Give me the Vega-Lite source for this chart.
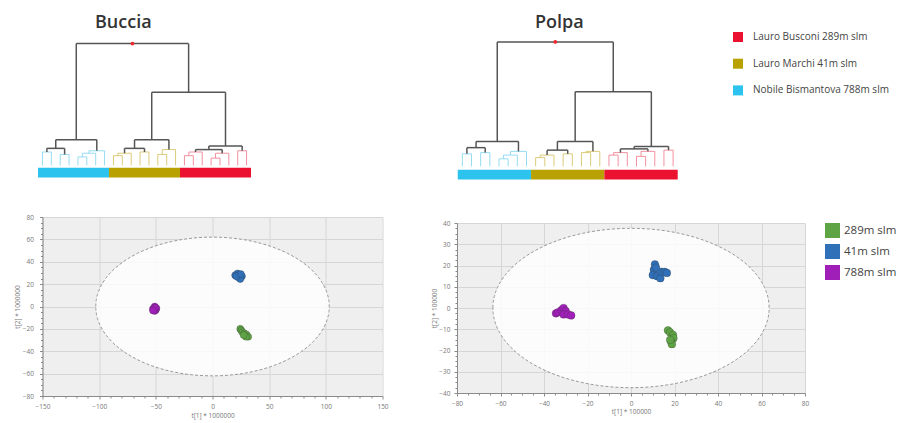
{
  "$schema": "https://vega.github.io/schema/vega-lite/v6.json",
  "background": "white",
  "padding": {"left": 14, "top": 14, "right": 4, "bottom": 2},
  "config": {
    "font": "Open Sans",
    "view": {"stroke": null},
    "axis": {
      "labelFont": "Open Sans", "labelFontSize": 6.5, "labelColor": "#777",
      "titleFont": "Open Sans", "titleFontSize": 6.5, "titleColor": "#777", "titleFontWeight": "normal",
      "domainColor": "#8a8a8a", "tickColor": "#8a8a8a", "gridColor": "#d6d6d6",
      "labelOverlap": false, "labelFlush": false, "tickSize": 3
    },
    "legend": {"labelFont": "Open Sans", "labelColor": "#444", "title": null}
  },
  "datasets": {
    "bDen": [
      {"x0":0.5,"x1":0.5,"h0":0,"h1":11,"c":"cyan"},{"x0":1.5,"x1":1.5,"h0":0,"h1":11,"c":"cyan"},{"x0":0.5,"x1":1.5,"h0":11,"h1":11,"c":"cyan"},
      {"x0":2.5,"x1":2.5,"h0":0,"h1":9,"c":"cyan"},{"x0":3.5,"x1":3.5,"h0":0,"h1":9,"c":"cyan"},{"x0":2.5,"x1":3.5,"h0":9,"h1":9,"c":"cyan"},
      {"x0":1,"x1":1,"h0":11,"h1":14,"c":"dark"},{"x0":3,"x1":3,"h0":9,"h1":14,"c":"dark"},{"x0":1,"x1":3,"h0":14,"h1":14,"c":"dark"},
      {"x0":4.5,"x1":4.5,"h0":0,"h1":7,"c":"cyan"},{"x0":5.5,"x1":5.5,"h0":0,"h1":7,"c":"cyan"},{"x0":4.5,"x1":5.5,"h0":7,"h1":7,"c":"cyan"},
      {"x0":5,"x1":5,"h0":7,"h1":10,"c":"cyan"},{"x0":6.5,"x1":6.5,"h0":0,"h1":10,"c":"cyan"},{"x0":5,"x1":6.5,"h0":10,"h1":10,"c":"cyan"},
      {"x0":5.75,"x1":5.75,"h0":10,"h1":12,"c":"cyan"},{"x0":7.5,"x1":7.5,"h0":0,"h1":12,"c":"cyan"},{"x0":5.75,"x1":7.5,"h0":12,"h1":12,"c":"cyan"},
      {"x0":2,"x1":2,"h0":14,"h1":21,"c":"dark"},{"x0":6.625,"x1":6.625,"h0":12,"h1":21,"c":"dark"},{"x0":2,"x1":6.625,"h0":21,"h1":21,"c":"dark"},
      {"x0":8.5,"x1":8.5,"h0":0,"h1":8,"c":"gold"},{"x0":9.5,"x1":9.5,"h0":0,"h1":8,"c":"gold"},{"x0":8.5,"x1":9.5,"h0":8,"h1":8,"c":"gold"},
      {"x0":9,"x1":9,"h0":8,"h1":10,"c":"gold"},{"x0":10.5,"x1":10.5,"h0":0,"h1":10,"c":"gold"},{"x0":9,"x1":10.5,"h0":10,"h1":10,"c":"gold"},
      {"x0":11.5,"x1":11.5,"h0":0,"h1":11,"c":"gold"},{"x0":12.5,"x1":12.5,"h0":0,"h1":11,"c":"gold"},{"x0":11.5,"x1":12.5,"h0":11,"h1":11,"c":"gold"},
      {"x0":9.75,"x1":9.75,"h0":10,"h1":14,"c":"dark"},{"x0":12,"x1":12,"h0":11,"h1":14,"c":"dark"},{"x0":9.75,"x1":12,"h0":14,"h1":14,"c":"dark"},
      {"x0":13.5,"x1":13.5,"h0":0,"h1":9,"c":"gold"},{"x0":14.5,"x1":14.5,"h0":0,"h1":9,"c":"gold"},{"x0":13.5,"x1":14.5,"h0":9,"h1":9,"c":"gold"},
      {"x0":14,"x1":14,"h0":9,"h1":13,"c":"gold"},{"x0":15.5,"x1":15.5,"h0":0,"h1":13,"c":"gold"},{"x0":14,"x1":15.5,"h0":13,"h1":13,"c":"gold"},
      {"x0":10.875,"x1":10.875,"h0":14,"h1":21,"c":"dark"},{"x0":14.75,"x1":14.75,"h0":13,"h1":21,"c":"dark"},{"x0":10.875,"x1":14.75,"h0":21,"h1":21,"c":"dark"},
      {"x0":16.5,"x1":16.5,"h0":0,"h1":8,"c":"pink"},{"x0":17.5,"x1":17.5,"h0":0,"h1":8,"c":"pink"},{"x0":16.5,"x1":17.5,"h0":8,"h1":8,"c":"pink"},
      {"x0":17,"x1":17,"h0":8,"h1":11,"c":"pink"},{"x0":18.5,"x1":18.5,"h0":0,"h1":11,"c":"pink"},{"x0":17,"x1":18.5,"h0":11,"h1":11,"c":"pink"},
      {"x0":19.5,"x1":19.5,"h0":0,"h1":6,"c":"pink"},{"x0":20.5,"x1":20.5,"h0":0,"h1":6,"c":"pink"},{"x0":19.5,"x1":20.5,"h0":6,"h1":6,"c":"pink"},
      {"x0":20,"x1":20,"h0":6,"h1":10,"c":"pink"},{"x0":21.5,"x1":21.5,"h0":0,"h1":10,"c":"pink"},{"x0":20,"x1":21.5,"h0":10,"h1":10,"c":"pink"},
      {"x0":17.75,"x1":17.75,"h0":11,"h1":13,"c":"dark"},{"x0":20.75,"x1":20.75,"h0":10,"h1":13,"c":"dark"},{"x0":17.75,"x1":20.75,"h0":13,"h1":13,"c":"dark"},
      {"x0":22.5,"x1":22.5,"h0":0,"h1":12,"c":"pink"},{"x0":23.5,"x1":23.5,"h0":0,"h1":12,"c":"pink"},{"x0":22.5,"x1":23.5,"h0":12,"h1":12,"c":"pink"},
      {"x0":19.25,"x1":19.25,"h0":13,"h1":16,"c":"dark"},{"x0":23,"x1":23,"h0":12,"h1":16,"c":"dark"},{"x0":19.25,"x1":23,"h0":16,"h1":16,"c":"dark"},
      {"x0":12.8125,"x1":12.8125,"h0":21,"h1":60,"c":"dark"},{"x0":21.125,"x1":21.125,"h0":16,"h1":60,"c":"dark"},{"x0":12.8125,"x1":21.125,"h0":60,"h1":60,"c":"dark"},
      {"x0":4.3125,"x1":4.3125,"h0":21,"h1":100,"c":"dark"},{"x0":16.96875,"x1":16.96875,"h0":60,"h1":100,"c":"dark"},{"x0":4.3125,"x1":16.96875,"h0":100,"h1":100,"c":"dark"}
    ],
    "pDen": [
      {"x0":0.5,"x1":0.5,"h0":0,"h1":10,"c":"cyan"},{"x0":1.5,"x1":1.5,"h0":0,"h1":10,"c":"cyan"},{"x0":0.5,"x1":1.5,"h0":10,"h1":10,"c":"cyan"},
      {"x0":2.5,"x1":2.5,"h0":0,"h1":11,"c":"cyan"},{"x0":3.5,"x1":3.5,"h0":0,"h1":11,"c":"cyan"},{"x0":2.5,"x1":3.5,"h0":11,"h1":11,"c":"cyan"},
      {"x0":1,"x1":1,"h0":10,"h1":15,"c":"dark"},{"x0":3,"x1":3,"h0":11,"h1":15,"c":"dark"},{"x0":1,"x1":3,"h0":15,"h1":15,"c":"dark"},
      {"x0":4.5,"x1":4.5,"h0":0,"h1":6,"c":"cyan"},{"x0":5.5,"x1":5.5,"h0":0,"h1":6,"c":"cyan"},{"x0":4.5,"x1":5.5,"h0":6,"h1":6,"c":"cyan"},
      {"x0":5,"x1":5,"h0":6,"h1":9,"c":"cyan"},{"x0":6.5,"x1":6.5,"h0":0,"h1":9,"c":"cyan"},{"x0":5,"x1":6.5,"h0":9,"h1":9,"c":"cyan"},
      {"x0":5.75,"x1":5.75,"h0":9,"h1":12,"c":"cyan"},{"x0":7.5,"x1":7.5,"h0":0,"h1":12,"c":"cyan"},{"x0":5.75,"x1":7.5,"h0":12,"h1":12,"c":"cyan"},
      {"x0":2,"x1":2,"h0":15,"h1":20,"c":"dark"},{"x0":6.625,"x1":6.625,"h0":12,"h1":20,"c":"dark"},{"x0":2,"x1":6.625,"h0":20,"h1":20,"c":"dark"},
      {"x0":8.5,"x1":8.5,"h0":0,"h1":7,"c":"gold"},{"x0":9.5,"x1":9.5,"h0":0,"h1":7,"c":"gold"},{"x0":8.5,"x1":9.5,"h0":7,"h1":7,"c":"gold"},
      {"x0":9,"x1":9,"h0":7,"h1":9,"c":"gold"},{"x0":10.5,"x1":10.5,"h0":0,"h1":9,"c":"gold"},{"x0":9,"x1":10.5,"h0":9,"h1":9,"c":"gold"},
      {"x0":11.5,"x1":11.5,"h0":0,"h1":10,"c":"gold"},{"x0":12.5,"x1":12.5,"h0":0,"h1":10,"c":"gold"},{"x0":11.5,"x1":12.5,"h0":10,"h1":10,"c":"gold"},
      {"x0":9.75,"x1":9.75,"h0":9,"h1":13,"c":"dark"},{"x0":12,"x1":12,"h0":10,"h1":13,"c":"dark"},{"x0":9.75,"x1":12,"h0":13,"h1":13,"c":"dark"},
      {"x0":13.5,"x1":13.5,"h0":0,"h1":11,"c":"gold"},{"x0":14.5,"x1":14.5,"h0":0,"h1":11,"c":"gold"},{"x0":13.5,"x1":14.5,"h0":11,"h1":11,"c":"gold"},
      {"x0":14,"x1":14,"h0":11,"h1":12,"c":"gold"},{"x0":15.5,"x1":15.5,"h0":0,"h1":12,"c":"gold"},{"x0":14,"x1":15.5,"h0":12,"h1":12,"c":"gold"},
      {"x0":10.875,"x1":10.875,"h0":13,"h1":20,"c":"dark"},{"x0":14.75,"x1":14.75,"h0":12,"h1":20,"c":"dark"},{"x0":10.875,"x1":14.75,"h0":20,"h1":20,"c":"dark"},
      {"x0":16.5,"x1":16.5,"h0":0,"h1":9,"c":"pink"},{"x0":17.5,"x1":17.5,"h0":0,"h1":9,"c":"pink"},{"x0":16.5,"x1":17.5,"h0":9,"h1":9,"c":"pink"},
      {"x0":17,"x1":17,"h0":9,"h1":11,"c":"pink"},{"x0":18.5,"x1":18.5,"h0":0,"h1":11,"c":"pink"},{"x0":17,"x1":18.5,"h0":11,"h1":11,"c":"pink"},
      {"x0":19.5,"x1":19.5,"h0":0,"h1":8,"c":"pink"},{"x0":20.5,"x1":20.5,"h0":0,"h1":8,"c":"pink"},{"x0":19.5,"x1":20.5,"h0":8,"h1":8,"c":"pink"},
      {"x0":20,"x1":20,"h0":8,"h1":12,"c":"pink"},{"x0":21.5,"x1":21.5,"h0":0,"h1":12,"c":"pink"},{"x0":20,"x1":21.5,"h0":12,"h1":12,"c":"pink"},
      {"x0":17.75,"x1":17.75,"h0":11,"h1":14,"c":"dark"},{"x0":20.75,"x1":20.75,"h0":12,"h1":14,"c":"dark"},{"x0":17.75,"x1":20.75,"h0":14,"h1":14,"c":"dark"},
      {"x0":22.5,"x1":22.5,"h0":0,"h1":13,"c":"pink"},{"x0":23.5,"x1":23.5,"h0":0,"h1":13,"c":"pink"},{"x0":22.5,"x1":23.5,"h0":13,"h1":13,"c":"pink"},
      {"x0":19.25,"x1":19.25,"h0":14,"h1":16,"c":"dark"},{"x0":23,"x1":23,"h0":13,"h1":16,"c":"dark"},{"x0":19.25,"x1":23,"h0":16,"h1":16,"c":"dark"},
      {"x0":12.8125,"x1":12.8125,"h0":20,"h1":60,"c":"dark"},{"x0":21.125,"x1":21.125,"h0":16,"h1":60,"c":"dark"},{"x0":12.8125,"x1":21.125,"h0":60,"h1":60,"c":"dark"},
      {"x0":4.3125,"x1":4.3125,"h0":20,"h1":100,"c":"dark"},{"x0":16.96875,"x1":16.96875,"h0":60,"h1":100,"c":"dark"},{"x0":4.3125,"x1":16.96875,"h0":100,"h1":100,"c":"dark"}
    ],
    "groups": [
      {"grp":"Nobile Bismantova 788m slm","x0":0,"x1":8},
      {"grp":"Lauro Marchi 41m slm","x0":8,"x1":16},
      {"grp":"Lauro Busconi 289m slm","x0":16,"x1":24}
    ],
    "apex": [{"x":10.64,"h":100}],
    "bEll": [
      {"x":-103,"hi":0,"lo":0},{"x":-102.9,"hi":2.7,"lo":-2.7},{"x":-102.61,"hi":5.4,"lo":-5.4},{"x":-101.43,"hi":10.76,"lo":-10.76},
      {"x":-99.49,"hi":16.05,"lo":-16.05},{"x":-96.79,"hi":21.2,"lo":-21.2},{"x":-89.2,"hi":31,"lo":-31},{"x":-78.9,"hi":39.85,"lo":-39.85},
      {"x":-66.21,"hi":47.49,"lo":-47.49},{"x":-51.5,"hi":53.69,"lo":-53.69},{"x":-35.23,"hi":58.26,"lo":-58.26},{"x":-17.88,"hi":61.06,"lo":-61.06},
      {"x":0,"hi":62,"lo":-62},
      {"x":17.88,"hi":61.06,"lo":-61.06},{"x":35.23,"hi":58.26,"lo":-58.26},{"x":51.5,"hi":53.69,"lo":-53.69},{"x":66.21,"hi":47.49,"lo":-47.49},
      {"x":78.9,"hi":39.85,"lo":-39.85},{"x":89.2,"hi":31,"lo":-31},{"x":96.79,"hi":21.2,"lo":-21.2},{"x":99.49,"hi":16.05,"lo":-16.05},
      {"x":101.43,"hi":10.76,"lo":-10.76},{"x":102.61,"hi":5.4,"lo":-5.4},{"x":102.9,"hi":2.7,"lo":-2.7},{"x":103,"hi":0,"lo":0}
    ],
    "pEll": [
      {"x":-63.5,"hi":0,"lo":0},{"x":-63.44,"hi":1.64,"lo":-1.64},{"x":-63.26,"hi":3.27,"lo":-3.27},{"x":-62.54,"hi":6.51,"lo":-6.51},
      {"x":-61.34,"hi":9.71,"lo":-9.71},{"x":-59.67,"hi":12.83,"lo":-12.83},{"x":-54.99,"hi":18.75,"lo":-18.75},{"x":-48.64,"hi":24.11,"lo":-24.11},
      {"x":-40.82,"hi":28.73,"lo":-28.73},{"x":-31.75,"hi":32.48,"lo":-32.48},{"x":-21.72,"hi":35.24,"lo":-35.24},{"x":-11.02,"hi":36.93,"lo":-36.93},
      {"x":0,"hi":37.5,"lo":-37.5},
      {"x":11.02,"hi":36.93,"lo":-36.93},{"x":21.72,"hi":35.24,"lo":-35.24},{"x":31.75,"hi":32.48,"lo":-32.48},{"x":40.82,"hi":28.73,"lo":-28.73},
      {"x":48.64,"hi":24.11,"lo":-24.11},{"x":54.99,"hi":18.75,"lo":-18.75},{"x":59.67,"hi":12.83,"lo":-12.83},{"x":61.34,"hi":9.71,"lo":-9.71},
      {"x":62.54,"hi":6.51,"lo":-6.51},{"x":63.26,"hi":3.27,"lo":-3.27},{"x":63.44,"hi":1.64,"lo":-1.64},{"x":63.5,"hi":0,"lo":0}
    ],
    "bPts": [
      {"alt":"41m slm","x":20,"y":28},{"alt":"41m slm","x":22,"y":29.5},{"alt":"41m slm","x":24,"y":28.5},{"alt":"41m slm","x":26,"y":27},
      {"alt":"41m slm","x":23,"y":26},{"alt":"41m slm","x":24.5,"y":24.5},{"alt":"41m slm","x":21,"y":27},{"alt":"41m slm","x":25,"y":29},
      {"alt":"289m slm","x":24.5,"y":-20},{"alt":"289m slm","x":25.5,"y":-21.5},{"alt":"289m slm","x":26.5,"y":-23},{"alt":"289m slm","x":28,"y":-24},
      {"alt":"289m slm","x":30,"y":-25},{"alt":"289m slm","x":31.5,"y":-27},{"alt":"289m slm","x":29.5,"y":-27},{"alt":"289m slm","x":27.5,"y":-25.5},
      {"alt":"788m slm","x":-51,"y":0},{"alt":"788m slm","x":-52.5,"y":-2},{"alt":"788m slm","x":-50,"y":-3},{"alt":"788m slm","x":-49.5,"y":-1.5},
      {"alt":"788m slm","x":-51,"y":-4},{"alt":"788m slm","x":-50.5,"y":-1},{"alt":"788m slm","x":-52.5,"y":-3.5}
    ],
    "pPts": [
      {"alt":"41m slm","x":11,"y":20.5},{"alt":"41m slm","x":10.5,"y":18},{"alt":"41m slm","x":10,"y":15.5},{"alt":"41m slm","x":12,"y":15},
      {"alt":"41m slm","x":13.5,"y":14},{"alt":"41m slm","x":14,"y":17},{"alt":"41m slm","x":15.5,"y":17},{"alt":"41m slm","x":16.5,"y":16.5},
      {"alt":"41m slm","x":11.5,"y":19},
      {"alt":"289m slm","x":17,"y":-10.5},{"alt":"289m slm","x":18,"y":-11.5},{"alt":"289m slm","x":19.3,"y":-12.7},{"alt":"289m slm","x":19.5,"y":-14.2},
      {"alt":"289m slm","x":18.5,"y":-16},{"alt":"289m slm","x":18.8,"y":-17},{"alt":"289m slm","x":18,"y":-15},
      {"alt":"788m slm","x":-34.5,"y":-2.5},{"alt":"788m slm","x":-33.5,"y":-2},{"alt":"788m slm","x":-32,"y":-1},{"alt":"788m slm","x":-31,"y":0},
      {"alt":"788m slm","x":-30,"y":-1.5},{"alt":"788m slm","x":-31,"y":-3},{"alt":"788m slm","x":-29,"y":-3},{"alt":"788m slm","x":-27.5,"y":-3.5}
    ]
  },
  "spacing": 42,
  "resolve": {
    "scale": {"color": "independent", "fill": "independent", "stroke": "independent"},
    "legend": {"color": "independent", "fill": "independent"}
  },
  "hconcat": [
    {
      "bounds": "flush",
      "center": true,
      "spacing": 39,
      "resolve": {
        "scale": {"color": "independent", "fill": "independent", "stroke": "independent"},
        "legend": {"color": "independent", "fill": "independent"}
      },
      "vconcat": [
        {
          "width": 349,
          "height": 145.6,
          "title": {"text": "Buccia", "anchor": "start", "dx": 57, "offset": 0, "fontSize": 18, "fontWeight": 600, "color": "#333", "font": "Open Sans"},
          "layer": [
            {
              "data": {"name": "groups"},
              "mark": {"type": "rect"},
              "encoding": {
                "x": {"field": "x0", "type": "quantitative", "scale": {"domain": [0, 39.32], "nice": false, "zero": false}, "axis": null},
                "x2": {"field": "x1"},
                "y": {"datum": -2, "type": "quantitative", "scale": {"domain": [-10, 109.5], "nice": false, "zero": false}, "axis": null},
                "y2": {"datum": -10},
                "fill": {"field": "grp", "type": "nominal", "legend": null,
                  "scale": {"domain": ["Lauro Busconi 289m slm", "Lauro Marchi 41m slm", "Nobile Bismantova 788m slm"], "range": ["#ea1230", "#b8a100", "#2cc3ee"]}}
              }
            },
            {
              "data": {"name": "bDen"},
              "transform": [{"filter": "datum.c !== 'dark'"}],
              "mark": {"type": "rule", "strokeWidth": 1},
              "encoding": {
                "x": {"field": "x0", "type": "quantitative"},
                "x2": {"field": "x1"},
                "y": {"field": "h0", "type": "quantitative"},
                "y2": {"field": "h1"},
                "stroke": {"field": "c", "type": "nominal", "legend": null,
                  "scale": {"domain": ["dark", "cyan", "gold", "pink"], "range": ["#555555", "#96dcf2", "#dccb7a", "#f2909f"]}}
              }
            },
            {
              "data": {"name": "bDen"},
              "transform": [{"filter": "datum.c === 'dark'"}],
              "mark": {"type": "rule", "strokeWidth": 1.5},
              "encoding": {
                "x": {"field": "x0", "type": "quantitative"},
                "x2": {"field": "x1"},
                "y": {"field": "h0", "type": "quantitative"},
                "y2": {"field": "h1"},
                "stroke": {"field": "c", "type": "nominal", "legend": null}
              }
            },
            {
              "data": {"name": "apex"},
              "mark": {"type": "point", "filled": true, "size": 14, "color": "#f0262c", "opacity": 1},
              "encoding": {
                "x": {"field": "x", "type": "quantitative"},
                "y": {"field": "h", "type": "quantitative"}
              }
            }
          ]
        },
        {
          "width": 340,
          "height": 179,
          "view": {"fill": "#efefef", "stroke": null},
          "resolve": {"axis": {"x": "independent", "y": "independent"}},
          "layer": [
            {
              "data": {"name": "bEll"},
              "mark": {"type": "area", "interpolate": "monotone", "fill": "white", "fillOpacity": 0.82, "stroke": "#9a9a9a", "strokeWidth": 1, "strokeDash": [3, 2]},
              "encoding": {
                "x": {"field": "x", "type": "quantitative", "title": "t[1] * 1000000",
                  "scale": {"domain": [-150, 150], "nice": false, "zero": false},
                  "axis": {"orient": "bottom", "values": [-150, -100, -50, 0, 50, 100, 150], "labelPadding": 4, "titlePadding": 3}},
                "y": {"field": "hi", "type": "quantitative", "title": "t[2] * 1000000",
                  "scale": {"domain": [-80, 80], "nice": false, "zero": false},
                  "axis": {"orient": "left", "values": [-80, -60, -40, -20, 0, 20, 40, 60, 80], "labelPadding": 6, "titlePadding": 1.5}},
                "y2": {"field": "lo"}
              }
            },
            {
              "mark": {"type": "rule", "color": "#9c9c9c", "strokeWidth": 1},
              "encoding": {"x": {"datum": 0, "type": "quantitative",
                "axis": {"orient": "bottom", "title": null, "labels": false, "grid": false, "domain": false, "tickSize": 2,
                  "values": [-140,-130,-120,-110,-90,-80,-70,-60,-40,-30,-20,-10,10,20,30,40,60,70,80,90,110,120,130,140]}}}
            },
            {
              "mark": {"type": "rule", "color": "#9c9c9c", "strokeWidth": 1},
              "encoding": {"y": {"datum": 0, "type": "quantitative",
                "axis": {"orient": "left", "title": null, "labels": false, "grid": false, "domain": false, "tickSize": 2,
                  "values": [-75,-70,-65,-55,-50,-45,-35,-30,-25,-15,-10,-5,5,10,15,25,30,35,45,50,55,65,70,75]}}}
            },
            {
              "data": {"name": "bPts"},
              "mark": {"type": "point", "filled": true, "shape": "circle", "size": 50, "opacity": 1, "stroke": "#333", "strokeOpacity": 0.35, "strokeWidth": 0.8},
              "encoding": {
                "x": {"field": "x", "type": "quantitative", "axis": null},
                "y": {"field": "y", "type": "quantitative", "axis": null},
                "color": {"field": "alt", "type": "nominal", "legend": null,
                  "scale": {"domain": ["289m slm", "41m slm", "788m slm"], "range": ["#5fa444", "#2f70b8", "#a01fb8"]}}
              }
            }
          ]
        }
      ]
    },
    {
      "bounds": "flush",
      "spacing": 43,
      "resolve": {
        "scale": {"color": "independent", "fill": "independent", "stroke": "independent"},
        "legend": {"color": "independent", "fill": "independent"}
      },
      "vconcat": [
        {
          "width": 220.7,
          "height": 147.6,
          "title": {"text": "Polpa", "anchor": "start", "dx": 78, "offset": 0, "fontSize": 18, "fontWeight": 600, "color": "#333", "font": "Open Sans"},
          "layer": [
            {
              "data": {"name": "groups"},
              "mark": {"type": "rect"},
              "encoding": {
                "x": {"field": "x0", "type": "quantitative", "scale": {"domain": [-0.08, 24], "nice": false, "zero": false}, "axis": null},
                "x2": {"field": "x1"},
                "y": {"datum": -2.7, "type": "quantitative", "scale": {"domain": [-10.7, 108], "nice": false, "zero": false}, "axis": null},
                "y2": {"datum": -10.7},
                "fill": {"field": "grp", "type": "nominal",
                  "scale": {"domain": ["Lauro Busconi 289m slm", "Lauro Marchi 41m slm", "Nobile Bismantova 788m slm"], "range": ["#ea1230", "#b8a100", "#2cc3ee"]},
                  "legend": {"orient": "right", "offset": 55, "symbolType": "square", "symbolSize": 100, "symbolStrokeWidth": 0,
                    "labelFontSize": 10, "labelColor": "#444", "labelOffset": 10, "rowPadding": 16.7, "padding": 0}}
              }
            },
            {
              "data": {"name": "pDen"},
              "transform": [{"filter": "datum.c !== 'dark'"}],
              "mark": {"type": "rule", "strokeWidth": 1},
              "encoding": {
                "x": {"field": "x0", "type": "quantitative"},
                "x2": {"field": "x1"},
                "y": {"field": "h0", "type": "quantitative"},
                "y2": {"field": "h1"},
                "stroke": {"field": "c", "type": "nominal", "legend": null,
                  "scale": {"domain": ["dark", "cyan", "gold", "pink"], "range": ["#555555", "#96dcf2", "#dccb7a", "#f2909f"]}}
              }
            },
            {
              "data": {"name": "pDen"},
              "transform": [{"filter": "datum.c === 'dark'"}],
              "mark": {"type": "rule", "strokeWidth": 1.5},
              "encoding": {
                "x": {"field": "x0", "type": "quantitative"},
                "x2": {"field": "x1"},
                "y": {"field": "h0", "type": "quantitative"},
                "y2": {"field": "h1"},
                "stroke": {"field": "c", "type": "nominal", "legend": null}
              }
            },
            {
              "data": {"name": "apex"},
              "mark": {"type": "point", "filled": true, "size": 14, "color": "#f0262c", "opacity": 1},
              "encoding": {
                "x": {"field": "x", "type": "quantitative"},
                "y": {"field": "h", "type": "quantitative"}
              }
            }
          ]
        },
        {
          "width": 348,
          "height": 170,
          "view": {"fill": "#efefef", "stroke": null},
          "resolve": {"axis": {"x": "independent", "y": "independent"}},
          "layer": [
            {
              "data": {"name": "pEll"},
              "mark": {"type": "area", "interpolate": "monotone", "fill": "white", "fillOpacity": 0.82, "stroke": "#9a9a9a", "strokeWidth": 1, "strokeDash": [3, 2]},
              "encoding": {
                "x": {"field": "x", "type": "quantitative", "title": "t[1] * 100000",
                  "scale": {"domain": [-80, 80], "nice": false, "zero": false},
                  "axis": {"orient": "bottom", "values": [-80, -60, -40, -20, 0, 20, 40, 60, 80], "labelPadding": 4, "titlePadding": 2}},
                "y": {"field": "hi", "type": "quantitative", "title": "t[2] * 100000",
                  "scale": {"domain": [-40, 40], "nice": false, "zero": false},
                  "axis": {"orient": "left", "values": [-40, -30, -20, -10, 0, 10, 20, 30, 40], "labelPadding": 4, "titlePadding": 1}},
                "y2": {"field": "lo"}
              }
            },
            {
              "mark": {"type": "rule", "color": "#9c9c9c", "strokeWidth": 1},
              "encoding": {"x": {"datum": 0, "type": "quantitative",
                "axis": {"orient": "bottom", "title": null, "labels": false, "grid": false, "domain": false, "tickSize": 2,
                  "values": [-75,-70,-65,-55,-50,-45,-35,-30,-25,-15,-10,-5,5,10,15,25,30,35,45,50,55,65,70,75]}}}
            },
            {
              "mark": {"type": "rule", "color": "#9c9c9c", "strokeWidth": 1},
              "encoding": {"y": {"datum": 0, "type": "quantitative",
                "axis": {"orient": "left", "title": null, "labels": false, "grid": false, "domain": false, "tickSize": 2,
                  "values": [-37.5,-35,-32.5,-27.5,-25,-22.5,-17.5,-15,-12.5,-7.5,-5,-2.5,2.5,5,7.5,12.5,15,17.5,22.5,25,27.5,32.5,35,37.5]}}}
            },
            {
              "data": {"name": "pPts"},
              "mark": {"type": "point", "filled": true, "shape": "circle", "size": 60, "opacity": 1, "stroke": "#333", "strokeOpacity": 0.35, "strokeWidth": 0.8},
              "encoding": {
                "x": {"field": "x", "type": "quantitative", "axis": null},
                "y": {"field": "y", "type": "quantitative", "axis": null},
                "color": {"field": "alt", "type": "nominal",
                  "scale": {"domain": ["289m slm", "41m slm", "788m slm"], "range": ["#5fa444", "#2f70b8", "#a01fb8"]},
                  "legend": {"orient": "right", "offset": 20, "symbolType": "square", "symbolSize": 225, "symbolStrokeWidth": 0, "symbolOpacity": 1,
                    "labelFontSize": 11.5, "labelColor": "#444", "labelOffset": 4, "rowPadding": 6, "padding": 0}}
              }
            }
          ]
        }
      ]
    }
  ]
}
